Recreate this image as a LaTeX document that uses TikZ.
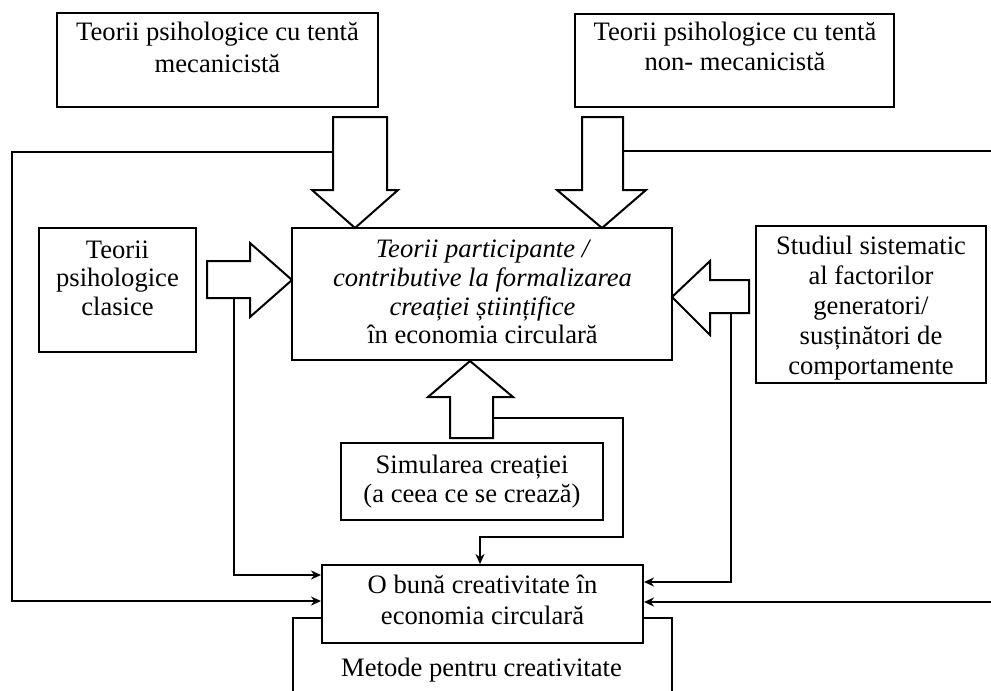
\documentclass[tikz,border=0pt]{standalone}
\usepackage{fontspec}
\setmainfont{Liberation Serif}
\usetikzlibrary{arrows.meta}
\begin{document}
\begin{tikzpicture}[x=1pt,y=-1pt,
  box/.style={draw, line width=2pt, inner sep=0pt},
  txt/.style={align=center, inner sep=0pt, font=\fontsize{26.6}{#1}\selectfont},
  blk/.style={draw, line width=2pt, fill=white, line join=miter},
  conn/.style={line width=2pt, line join=miter},
  tip/.style={-{Stealth[length=10pt,width=9pt]}}]
\useasboundingbox[fill=white] (0,0) rectangle (991,691);

% boxes
\node[box, minimum width=321pt, minimum height=94pt] (tl) at (217.5,60) {};
\node[box, minimum width=319pt, minimum height=93pt] (tr) at (734.5,60.5) {};
\node[box, minimum width=157pt, minimum height=124pt] (cl) at (117.5,290) {};
\node[box, minimum width=380pt, minimum height=132pt] (mid) at (482,294) {};
\node[box, minimum width=230pt, minimum height=157pt] (st) at (871,304.5) {};
\node[box, minimum width=262pt, minimum height=77pt] (sim) at (472,481.5) {};
\node[box, minimum width=321pt, minimum height=78pt] (gd) at (482.5,604) {};

% texts
\node[txt=32] (tlt) at (217.5,50) {\strut Teorii psihologice cu tentă\\ mecanicistă\strut};
\node[txt=30] (trt) at (735,49) {\strut Teorii psihologice cu tentă\\ non- mecanicistă\strut};
\node[txt=28.5] (clt) at (117.5,281) {\strut Teorii\\ psihologice\\ clasice\strut};
\node[txt=28.7] (midt) at (482.5,295) {\strut\itshape Teorii participante /\\ \itshape contributive la formalizarea\\ \itshape creației științifice\\ \upshape în economia circulară\strut};
\node[txt=30] (stt) at (871,308) {\strut Studiul sistematic\\ al factorilor\\ generatori/\\ susținători de\\ comportamente\strut};
\node[txt=29] (simt) at (472,482.5) {\strut Simularea creației\\ (a ceea ce se crează)\strut};
\node[txt=31] (gdt) at (482.5,602.5) {\strut O bună creativitate în\\ economia circulară\strut};
\node[txt=30] (met) at (481.5,670) {\strut Metode pentru creativitate};

% block arrows
\draw[blk] (333,117) -- (387,117) -- (387,190) -- (398,190) -- (355,228) -- (312,190) -- (333,190) -- cycle;
\draw[blk] (582,117) -- (623,117) -- (623,190) -- (646,190) -- (602,228) -- (557,190) -- (582,190) -- cycle;
\draw[blk] (207,261) -- (250,261) -- (250,243) -- (292,280) -- (250,317) -- (250,298) -- (207,298) -- cycle;
\draw[blk] (749,280) -- (710,280) -- (710,261) -- (672,297) -- (710,335) -- (710,313) -- (749,313) -- cycle;
\draw[blk] (450,438) -- (450,397) -- (428,397) -- (470,361) -- (513,397) -- (493,397) -- (493,438) -- cycle;

% connector ends on the block arrows
\coordinate (la) at (333,152);
\coordinate (ra) at (623,151);
\coordinate (ca) at (234,298);
\coordinate (sa) at (731,313);
\coordinate (ua) at (493,418);

% connectors
\draw[conn, tip] (la) -- (12,152) -- (12,601) -- ([yshift=3pt]gd.west);
\draw[conn, tip] (ra) -- (1000,151) -- (1000,602) -- ([yshift=2pt]gd.east);
\draw[conn, tip] (ca) -- (234,575) -- ([yshift=29pt]gd.west);
\draw[conn, tip] (sa) -- (731,582) -- ([yshift=22pt]gd.east);
\draw[conn, tip] (ua) -- (623,418) -- (623,537) -- (480,537) -- ([xshift=-2.5pt]gd.north);
\draw[conn] ([yshift=-14pt]gd.west) -- (293,618) -- (293,700);
\draw[conn] ([yshift=-14pt]gd.east) -- (672,618) -- (672,700);
\end{tikzpicture}
\end{document}
